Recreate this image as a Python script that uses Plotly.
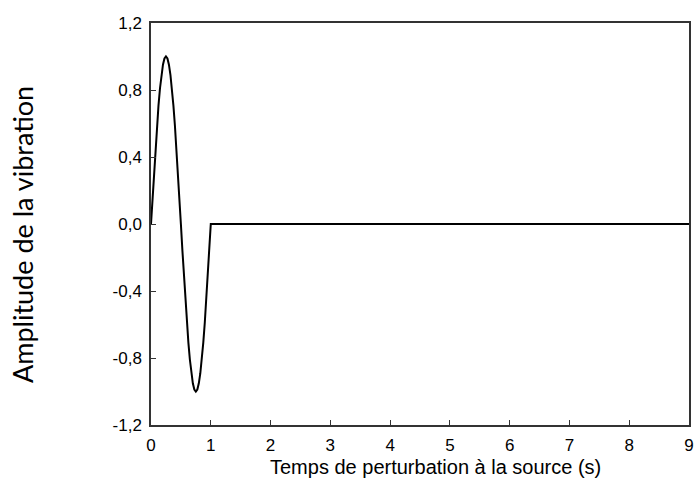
import plotly.graph_objects as go

# Time (s) and amplitude
time_s = [0.0, 0.025, 0.05, 0.075, 0.10, 0.125, 0.15, 0.175, 0.20, 0.225, 0.25,
          0.275, 0.30, 0.325, 0.35, 0.375, 0.40, 0.425, 0.45, 0.475, 0.50,
          0.525, 0.55, 0.575, 0.60, 0.625, 0.65, 0.675, 0.70, 0.725, 0.75,
          0.775, 0.80, 0.825, 0.85, 0.875, 0.90, 0.925, 0.95, 0.975, 1.0, 9.0]
amplitude = [0.0, 0.156, 0.309, 0.454, 0.588, 0.707, 0.809, 0.891, 0.951, 0.988, 1.0,
             0.988, 0.951, 0.891, 0.809, 0.707, 0.588, 0.454, 0.309, 0.156, 0.0,
             -0.156, -0.309, -0.454, -0.588, -0.707, -0.809, -0.891, -0.951, -0.988, -1.0,
             -0.988, -0.951, -0.891, -0.809, -0.707, -0.588, -0.454, -0.309, -0.156, 0.0, 0.0]

x_ticks = [0, 1, 2, 3, 4, 5, 6, 7, 8, 9]
y_ticks = [-1.2, -0.8, -0.4, 0.0, 0.4, 0.8, 1.2]
y_tick_labels = ["-1,2", "-0,8", "-0,4", "0,0", "0,4", "0,8", "1,2"]

fig = go.Figure()
fig.add_trace(go.Scatter(x=time_s, y=amplitude, mode="lines",
                         line=dict(color="black", width=2),
                         showlegend=False, hoverinfo="skip"))

axis_common = dict(showgrid=False, zeroline=False, showline=True, linecolor="#333333",
                   linewidth=1.5, mirror=True, ticks="inside", ticklen=5, tickwidth=1,
                   tickcolor="#333333",
                   tickfont=dict(family="Liberation Sans, Arial, sans-serif", size=17, color="black"))

fig.update_xaxes(range=[0, 9], tickvals=x_ticks, ticklabelstandoff=4, **axis_common)
fig.update_yaxes(range=[-1.2, 1.2], tickvals=y_ticks, ticktext=y_tick_labels,
                 ticklabelstandoff=4, **axis_common)

fig.add_annotation(text="Temps de perturbation à la source (s)", xref="paper", yref="paper",
                   x=0.529, y=-0.104, xanchor="center", yanchor="middle", showarrow=False,
                   font=dict(family="Liberation Sans, Arial, sans-serif", size=20, color="black"))
fig.add_annotation(text="Amplitude de la vibration", xref="paper", yref="paper",
                   x=-0.2376, y=0.473, xanchor="center", yanchor="middle", showarrow=False,
                   textangle=-90,
                   font=dict(family="Lato, Open Sans, sans-serif", size=27, color="black"))

fig.update_layout(width=698, height=479, margin=dict(l=151, r=4, t=23, b=54),
                  plot_bgcolor="white", paper_bgcolor="white")

fig.write_html("out.html", config={"displayModeBar": False},
               post_script="document.body.style.margin='0';document.body.style.overflow='hidden';")
